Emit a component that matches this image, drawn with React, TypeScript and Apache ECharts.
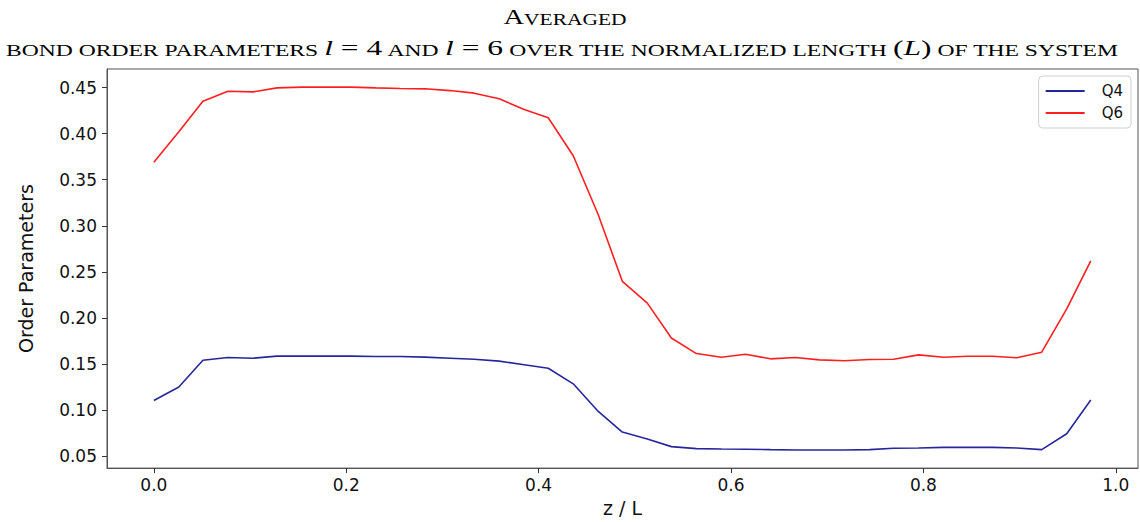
import React, { useEffect, useRef } from "react";
import * as echarts from "echarts";

const xs = [0, 0.026, 0.051, 0.077, 0.103, 0.128, 0.154, 0.179, 0.205, 0.231, 0.256, 0.282, 0.308, 0.333, 0.359, 0.385, 0.41, 0.436, 0.462, 0.487, 0.513, 0.538, 0.564, 0.59, 0.615, 0.641, 0.667, 0.692, 0.718, 0.744, 0.769, 0.795, 0.821, 0.846, 0.872, 0.897, 0.923, 0.949, 0.974];
const q4 = [0.1106, 0.1252, 0.1543, 0.1572, 0.1565, 0.1587, 0.1587, 0.1587, 0.1587, 0.1583, 0.1583, 0.1576, 0.1565, 0.1554, 0.1533, 0.1494, 0.1456, 0.1287, 0.0987, 0.0764, 0.0689, 0.0606, 0.0584, 0.058, 0.0577, 0.0573, 0.057, 0.057, 0.057, 0.0573, 0.0588, 0.0591, 0.0598, 0.0598, 0.0598, 0.0591, 0.0573, 0.0746, 0.1112];
const q6 = [0.369, 0.402, 0.4352, 0.446, 0.4453, 0.4496, 0.4504, 0.4504, 0.4504, 0.4496, 0.4489, 0.4486, 0.4467, 0.4439, 0.4378, 0.4263, 0.4173, 0.376, 0.312, 0.2399, 0.2162, 0.1784, 0.1615, 0.1575, 0.1608, 0.1558, 0.1572, 0.1547, 0.1537, 0.1551, 0.1554, 0.1601, 0.1575, 0.1586, 0.1586, 0.157, 0.163, 0.21, 0.262];
const seriesNames = ["Q4", "Q6"];
const xName = "z / L";
const yName = "Order Parameters";

export default function App() {
  const ref = useRef<HTMLDivElement>(null);
  useEffect(() => {
    const chart = echarts.init(ref.current!, null, { renderer: "svg" });
    const serif = "Liberation Serif";
    const sans = "DejaVu Sans";
    const option: any = {
      animation: false,
      backgroundColor: "#fff",
      graphic: [
        {
          type: "text",
          x: 565,
          y: 17,
          scaleX: 1.3,
          style: {
            text: "{big|A}{sc|VERAGED}",
            align: "center",
            verticalAlign: "middle",
            fill: "#000",
            rich: {
              big: { fontFamily: serif, fontSize: 22, verticalAlign: "bottom", fill: "#000" },
              sc: { fontFamily: serif, fontSize: 16.5, verticalAlign: "bottom", fill: "#000" },
            },
          },
        },
        {
          type: "text",
          x: 562,
          y: 48,
          scaleX: 1.43,
          style: {
            text: "{sc|BOND ORDER PARAMETERS }{mi|l}{mr| = 4}{sc| AND }{mi|l}{mr| = 6}{sc| OVER THE NORMALIZED LENGTH }{mr|(}{mi|L}{mr|)}{sc| OF THE SYSTEM}",
            align: "center",
            verticalAlign: "middle",
            fill: "#000",
            rich: {
              sc: { fontFamily: serif, fontSize: 16.5, verticalAlign: "bottom", fill: "#000" },
              mi: { fontFamily: serif, fontStyle: "italic", fontSize: 22, verticalAlign: "bottom", fill: "#000" },
              mr: { fontFamily: serif, fontSize: 22, verticalAlign: "bottom", fill: "#000" },
            },
          },
        },
      ],
      grid: {
        left: 107,
        right: 2,
        top: 69,
        bottom: 52,
        show: true,
        borderColor: "#555",
        borderWidth: 1,
        backgroundColor: "transparent",
      },
      legend: {
        orient: "vertical",
        right: 9,
        top: 76,
        data: seriesNames,
        icon: "rect",
        itemWidth: 39,
        itemHeight: 2,
        itemGap: 6,
        padding: [7, 8, 7, 7],
        borderColor: "#d0d0d0",
        borderWidth: 1,
        borderRadius: 4,
        backgroundColor: "rgba(255,255,255,0.8)",
        textStyle: { fontFamily: sans, fontSize: 15, color: "#111", lineHeight: 16, padding: [0, 0, 0, 12] },
      },
      xAxis: {
        type: "value",
        min: -0.0487,
        max: 1.0231,
        splitNumber: 5,
        minInterval: 0.2,
        maxInterval: 0.2,
        name: xName,
        nameLocation: "middle",
        nameGap: 27,
        nameTextStyle: { fontFamily: sans, fontSize: 19, color: "#111" },
        axisLine: { show: true, onZero: false, lineStyle: { color: "#555", width: 1 } },
        axisTick: { show: true, length: 5, lineStyle: { color: "#333" } },
        splitLine: { show: false },
        axisLabel: {
          showMinLabel: false,
          showMaxLabel: false,
          margin: 8,
          fontFamily: sans,
          fontSize: 17,
          color: "#111",
          formatter: (v: number) => v.toFixed(1),
        },
      },
      yAxis: {
        type: "value",
        min: 0.0373,
        max: 0.4701,
        splitNumber: 8,
        minInterval: 0.05,
        maxInterval: 0.05,
        name: yName,
        nameLocation: "middle",
        nameRotate: 90,
        nameGap: 72,
        nameTextStyle: { fontFamily: sans, fontSize: 19, color: "#111" },
        axisLine: { show: true, onZero: false, lineStyle: { color: "#555", width: 1 } },
        axisTick: { show: true, length: 5, lineStyle: { color: "#333" } },
        splitLine: { show: false },
        axisLabel: {
          showMinLabel: false,
          showMaxLabel: false,
          margin: 10,
          fontFamily: sans,
          fontSize: 17,
          color: "#111",
          formatter: (v: number) => v.toFixed(2),
        },
      },
      series: [
        {
          name: seriesNames[0],
          type: "line",
          data: xs.map((x, i) => [x, q4[i]]),
          showSymbol: false,
          symbol: "none",
          color: "rgba(0,0,139,0.85)",
          lineStyle: { width: 1.6, color: "rgba(0,0,139,0.85)" },
        },
        {
          name: seriesNames[1],
          type: "line",
          data: xs.map((x, i) => [x, q6[i]]),
          showSymbol: false,
          symbol: "none",
          color: "rgba(255,0,0,0.88)",
          lineStyle: { width: 1.6, color: "rgba(255,0,0,0.88)" },
        },
      ],
    };
    chart.setOption(option);
    return () => chart.dispose();
  }, []);
  return (
    <div
      ref={ref}
      style={{ position: "fixed", left: 0, top: 0, width: 1140, height: 522, background: "#fff" }}
    />
  );
}
